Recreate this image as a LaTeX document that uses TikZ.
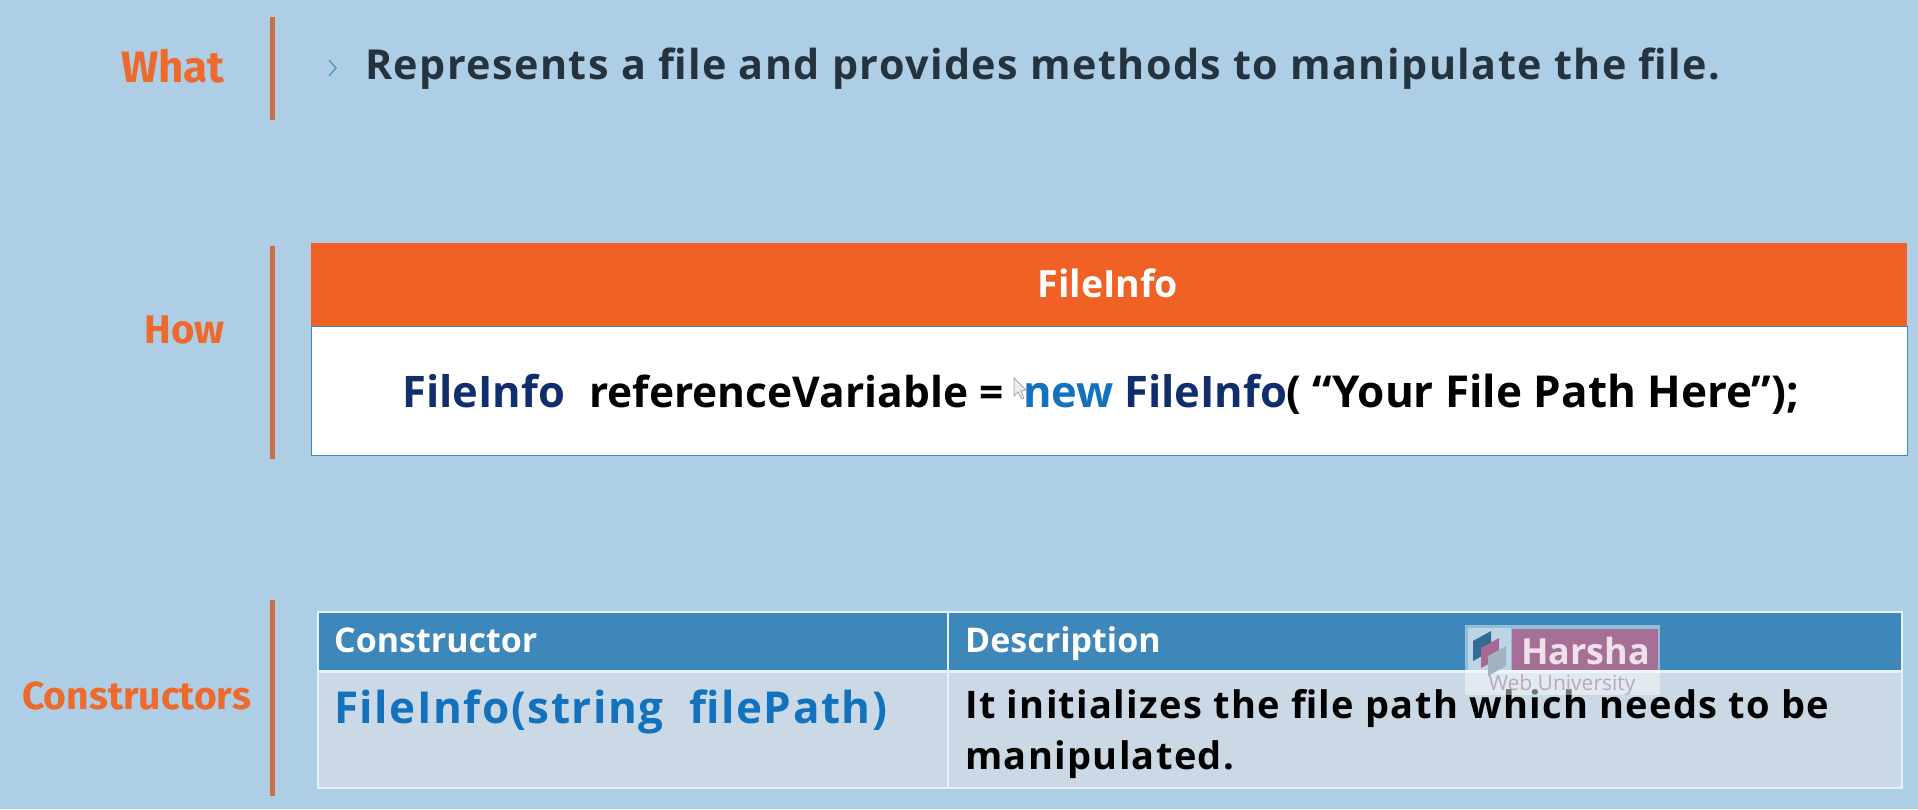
\documentclass[tikz,border=0pt]{standalone}
\usepackage{fontspec}
\setmainfont{Open Sans}
\newfontfamily\labelfont{Fira Sans}
\newfontfamily\codefont{Open Sans}
\newfontfamily\spacedfont[LetterSpace=3.5]{Open Sans}
\definecolor{bgblue}{HTML}{AECEE6}
\definecolor{accent}{HTML}{EE6A2C}
\definecolor{barcol}{HTML}{C86F49}
\definecolor{headorange}{HTML}{EF6124}
\definecolor{darktext}{HTML}{25333F}
\definecolor{navy}{HTML}{0F2E6B}
\definecolor{kwblue}{HTML}{1272BE}
\definecolor{headblue}{HTML}{3D87BA}
\definecolor{rowgrey}{HTML}{CBD9E6}
\definecolor{tableline}{HTML}{E4F1FA}
\definecolor{wmpink}{HTML}{A9688F}
\definecolor{chevron}{HTML}{5F9CBB}
\begin{document}
\begin{tikzpicture}[x=1pt,y=-1pt,
  secbar/.style={draw=barcol,line width=5pt},
  seclabel/.style={font=\labelfont\bfseries\fontsize{40}{44}\selectfont,text=accent,anchor=east,inner sep=0},
  codetxt/.style={font=\codefont\bfseries\fontsize{43.5}{50}\selectfont,inner sep=0,anchor=base west},
  headtxt/.style={font=\bfseries\fontsize{34}{38}\selectfont,text=white,inner sep=0,anchor=base west}]
\useasboundingbox (0,0) rectangle (1918,809);
\fill[bgblue] (0,0) rectangle (1918,809);
% section bars
\draw[secbar] (272,17) -- (272,120);
\draw[secbar] (272,246) -- (272,459);
\draw[secbar] (272,600) -- (272,796);
% labels
\node[seclabel,font=\labelfont\bfseries\fontsize{44}{48}\selectfont] (what) at (225,66) {What};
\node[seclabel] (how) at (225,330) {How};
\node[seclabel,font=\labelfont\bfseries\fontsize{39}{44}\selectfont] (ctors) at (251,696) {Constructors};
% what line
\draw[draw=chevron,line width=1.6pt] (329,60) -- (336,68) -- (329,76);
\node[font=\spacedfont\bfseries\fontsize{41.3}{48}\selectfont,text=darktext,anchor=west,inner sep=0] (desc) at (365,69) {Represents a file and provides methods to manipulate the file.};
% FileInfo box
\filldraw[fill=white,draw=headblue,line width=1pt] (311,326) rectangle (1907,455);
\fill[headorange] (311,243) rectangle (1907,326);
\node[font=\bfseries\fontsize{37.5}{42}\selectfont,text=white,inner sep=0] (title) at (1108,283) {FileInfo};
\node[codetxt,text=navy] (c1) at (402,407) {FileInfo};
\node[codetxt,text=black,font=\codefont\bfseries\fontsize{42.5}{50}\selectfont] (c2) at (589,407) {referenceVariable =};
\node[codetxt,text=kwblue] (c3) at (1023,407) {new};
\node[codetxt,text=navy] (c4) at (1124,407) {FileInfo};
\node[codetxt,text=black,font=\codefont\bfseries\fontsize{44}{50}\selectfont] (c5) at (1286,407) {( “Your File Path Here”);};
% cursor
\draw[gray!70,fill=white!85!gray,line width=.8pt] (1014,378) -- (1014,396) -- (1018,392) -- (1022,399) -- (1024,398) -- (1021,391) -- (1026,390) -- cycle;
% constructor table
\fill[rowgrey] (318,670) rectangle (1902,788);
\fill[headblue] (318,612) rectangle (1902,670);
\draw[tableline,line width=2.5pt] (318,612) rectangle (1902,788);
\draw[tableline,line width=3pt] (318,671) -- (1902,671);
\draw[tableline,line width=2pt] (948,612) -- (948,788);
\node[headtxt] (h1) at (334,652) {Constructor};
\node[headtxt] (h2) at (965,652) {Description};
\node[font=\spacedfont\bfseries\fontsize{44}{52}\selectfont,text=kwblue,anchor=base west,inner sep=0] (ct) at (334,723) {FileInfo(string\ \ filePath)};
\node[font=\spacedfont\bfseries\fontsize{38}{51}\selectfont,text=black,anchor=north west,align=left,inner sep=0] (dt) at (965,689) {It initializes the file path which needs to be\\manipulated.};
% watermark
\fill[white,opacity=.45] (1465,625) rectangle (1660,695);
\fill[wmpink,opacity=.9] (1512,629) rectangle (1658,670);
\fill[white!70!headblue,opacity=.85] (1468,628) rectangle (1511,670);
\fill[headblue!80!black] (1473,641) -- (1491,631) -- (1491,651) -- (1473,661) -- cycle;
\fill[wmpink] (1481,648) -- (1499,638) -- (1499,658) -- (1481,668) -- cycle;
\fill[gray!60!headblue!60] (1488,656) -- (1506,646) -- (1506,666) -- (1488,676) -- cycle;
\node[font=\bfseries\fontsize{36}{40}\selectfont,text=white!80!wmpink,inner sep=0,anchor=west] (wm1) at (1521,651) {Harsha};
\node[font=\fontsize{21}{24}\selectfont,text=wmpink!45!rowgrey,inner sep=0] (wm2) at (1562,685) {Web University};
\end{tikzpicture}
\end{document}
